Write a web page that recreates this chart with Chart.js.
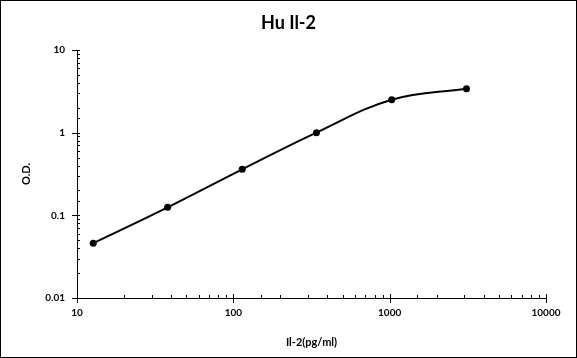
<!DOCTYPE html>
<html>
<head>
<meta charset="utf-8">
<script src="https://cdn.jsdelivr.net/npm/chart.js@4"></script>
<style>
html,body{margin:0;padding:0;background:#fff;}
canvas{display:block;}
</style>
</head>
<body>
<canvas id="c" width="577" height="358"></canvas>
<script>
const chartTitle = 'Hu Il-2';
const xTitle = 'Il-2(pg/ml)';
const yTitle = 'O.D.';
const concentrations = [12.7, 38, 114, 340, 1030, 3100];
const odValues = [0.046, 0.125, 0.36, 1.0, 2.5, 3.4];
const xRange = [10, 10000];
const yRange = [0.01, 10];

const FONT = 'Lato, "Liberation Sans", Arial, sans-serif';

function isMajor(v){ const l = Math.log10(v); return Math.abs(l - Math.round(l)) < 1e-9; }
function fmt(v){ return isMajor(v) ? String(+v.toPrecision(6)) : ''; }

const decor = {
  id: 'decor',
  afterDraw(chart){
    const ctx = chart.ctx;
    const xs = chart.scales.x, ys = chart.scales.y;
    const a = chart.chartArea;
    ctx.save();
    ctx.strokeStyle = '#000';
    ctx.lineWidth = 1;
    ctx.beginPath();
    xs.ticks.forEach(t => {
      const px = Math.round(xs.getPixelForValue(t.value)) + 0.5;
      if (isMajor(t.value)) { ctx.moveTo(px, a.bottom - 4); ctx.lineTo(px, a.bottom + 5); }
      else { ctx.moveTo(px, a.bottom - 3); ctx.lineTo(px, a.bottom); }
    });
    ys.ticks.forEach(t => {
      const py = Math.round(ys.getPixelForValue(t.value)) + 0.5;
      if (isMajor(t.value)) { ctx.moveTo(a.left - 5, py); ctx.lineTo(a.left + 3, py); }
      else { ctx.moveTo(a.left, py); ctx.lineTo(a.left + 3, py); }
    });
    ctx.stroke();
    ctx.strokeRect(0.5, 0.5, chart.width - 1, chart.height - 1);
    ctx.fillStyle = '#000';
    ctx.font = 'bold 18px ' + FONT;
    ctx.textAlign = 'center';
    ctx.textBaseline = 'middle';
    ctx.fillText(chartTitle, chart.width / 2, 23);
    ctx.restore();
  }
};

new Chart(document.getElementById('c'), {
  type: 'line',
  data: {
    datasets: [{
      data: concentrations.map((x, i) => ({x: x, y: odValues[i]})),
      borderColor: '#000',
      backgroundColor: '#000',
      borderWidth: 2,
      pointRadius: 3.5,
      pointBackgroundColor: '#000',
      pointBorderWidth: 0,
      tension: 0.4,
      fill: false
    }]
  },
  options: {
    responsive: false,
    animation: false,
    layout: { padding: { left: 0, right: 31, top: 50, bottom: 0 } },
    plugins: { legend: { display: false }, tooltip: { enabled: false }, title: { display: false } },
    scales: {
      x: {
        type: 'logarithmic',
        min: xRange[0], max: xRange[1],
        grid: { display: false, drawTicks: false },
        border: { display: true, color: '#000', width: 1 },
        afterFit(s){ s.height = 60; },
        ticks: {
          autoSkip: false, maxRotation: 0, padding: 9,
          color: '#000', font: { family: FONT, size: 10, weight: 'bold' },
          callback: (v) => fmt(v)
        },
        title: {
          display: true, text: xTitle, color: '#000',
          font: { family: FONT, size: 11, weight: 'bold' },
          padding: { top: 0, bottom: 9.4 }
        }
      },
      y: {
        type: 'logarithmic',
        min: yRange[0], max: yRange[1],
        grid: { display: false, drawTicks: false },
        border: { display: true, color: '#000', width: 1 },
        afterFit(s){ s.width = 77; },
        ticks: {
          autoSkip: false, padding: 12,
          color: '#000', font: { family: FONT, size: 10, weight: 'bold' },
          callback: (v) => fmt(v)
        },
        title: {
          display: true, text: yTitle, color: '#000',
          font: { family: FONT, size: 11, weight: 'bold' },
          padding: { top: 19.4, bottom: 0 }
        }
      }
    }
  },
  plugins: [decor]
});
</script>
</body>
</html>
